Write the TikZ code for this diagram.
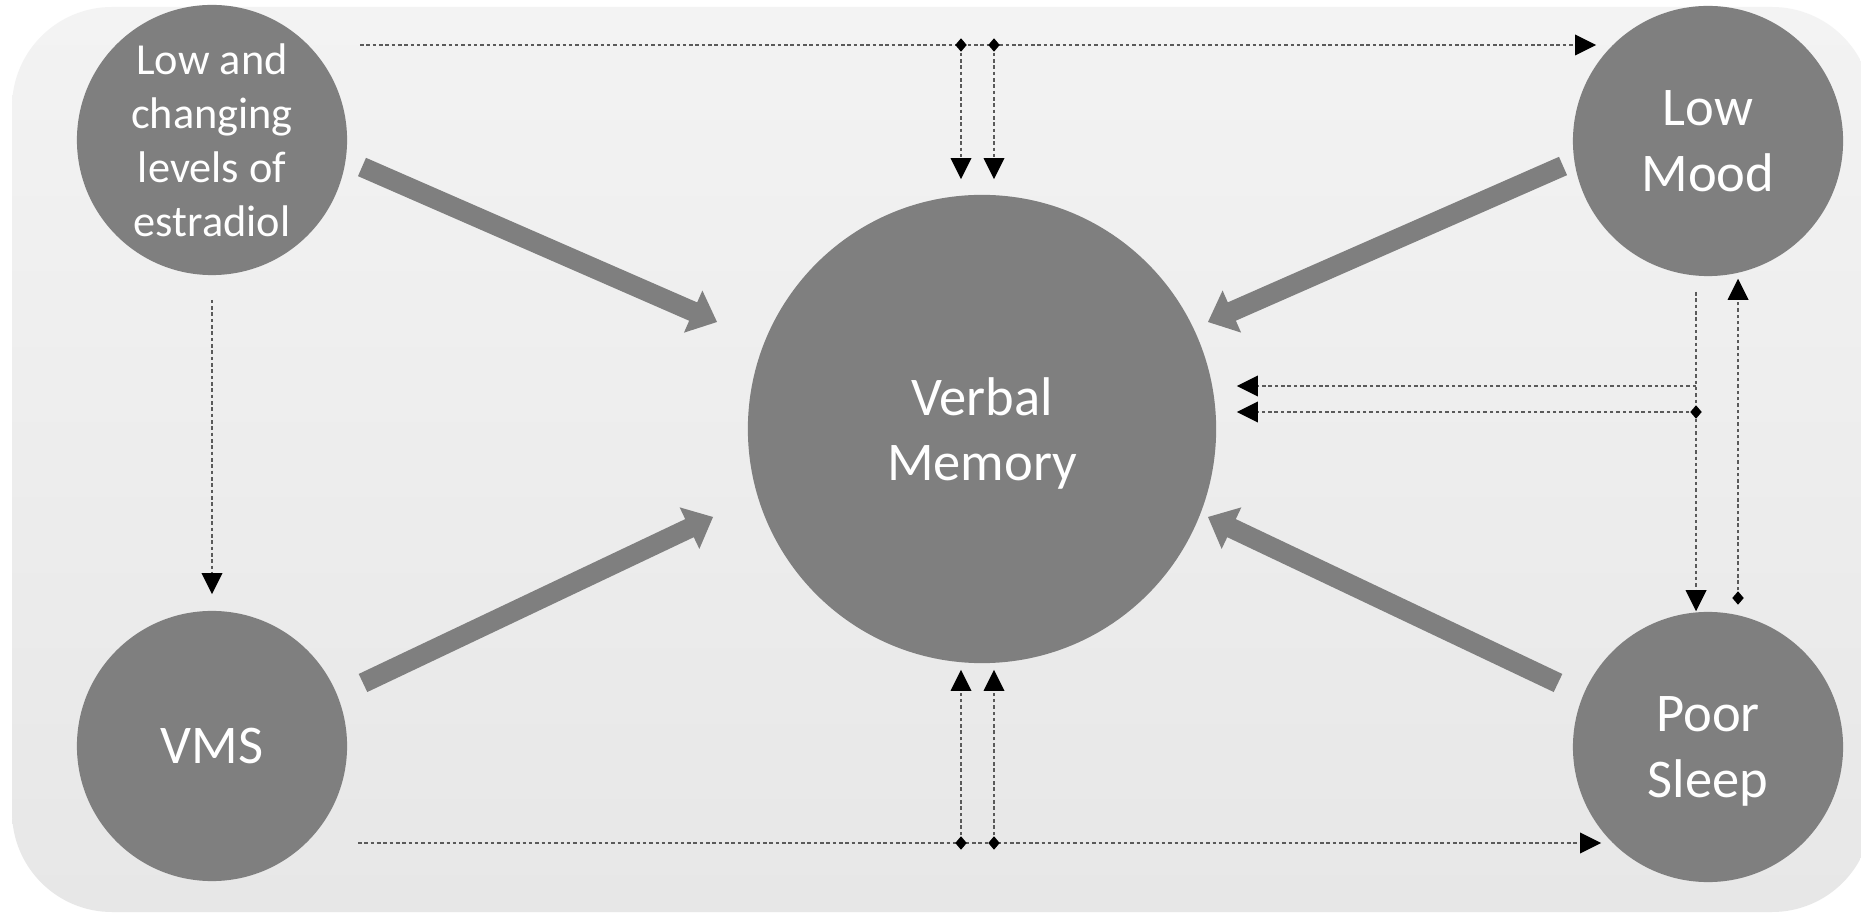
\documentclass[tikz,border=0pt]{standalone}
\usepackage{fontspec}
\setmainfont{Carlito}
\usetikzlibrary{arrows.meta,shapes.geometric,calc}
\definecolor{disccol}{HTML}{7F7F7F}
\definecolor{bgtop}{HTML}{F3F3F3}
\definecolor{bgbot}{HTML}{E7E7E7}
\definecolor{dotcol}{HTML}{5A5A5A}
% block arrow from coordinate #1 (tail) to coordinate #2 (tip)
\newcommand{\fatarrow}[2]{%
  \coordinate (#1-h) at ($(#2)!0.26cm!(#1)$);
  \fill[disccol] ($(#1)!0.1cm!90:(#2)$) -- ($(#1-h)!0.1cm!90:(#2)$)
    -- ($(#1-h)!0.23cm!90:(#2)$) -- (#2)
    -- ($(#1-h)!0.23cm!-90:(#2)$) -- ($(#1-h)!0.1cm!-90:(#2)$)
    -- ($(#1)!0.1cm!-90:(#2)$) -- cycle;}
\begin{document}
\begin{tikzpicture}[x=0.01cm, y=-0.01cm,
  disc/.style={circle, fill=disccol, draw=none, text=white, align=center,
    inner sep=0pt, minimum size=2.7cm, text depth=0pt,
    font=\fontsize{15.5pt}{18.5pt}\selectfont},
  bigdisc/.style={disc, minimum size=4.68cm},
  dotline/.style={draw=dotcol, line width=0.8pt, dash pattern=on 1pt off 0.8pt,
    -{Triangle[length=0.21cm, width=0.21cm, line width=0pt, black]}},
  junc/.style={diamond, fill=black, draw=none, inner sep=0pt,
    minimum width=0.12cm, minimum height=0.14cm}]

% page and shaded panel
\fill[white] (0,0) rectangle (1861,919);
\useasboundingbox (0,0) rectangle (1861,919);
\shade[top color=bgtop, bottom color=bgbot, rounded corners=1cm]
  (12,7) rectangle (1872,912);

% factors
\node[disc, font=\fontsize{12.6pt}{15.4pt}\selectfont] (est) at (212,140)
  {Low and\\changing\\levels of\\estradiol};
\node[disc] (mood) at (1708,141) {Low\\Mood};
\node[bigdisc] (vm) at (982,429) {Verbal\\Memory};
\node[disc] (vms) at (212,746) {VMS};
\node[disc] (sleep) at (1708,747) {Poor\\Sleep};

% direct effects on verbal memory
\coordinate (estS) at ($(est)+(150,27)$);
\coordinate (estT) at ($(vm)+(-265,-107)$);
\coordinate (vmsS) at ($(vms)+(151,-63)$);
\coordinate (vmsT) at ($(vm)+(-269,88)$);
\coordinate (moodS) at ($(mood)+(-145,25)$);
\coordinate (moodT) at ($(vm)+(226,-107)$);
\coordinate (sleepS) at ($(sleep)+(-150,-64)$);
\coordinate (sleepT) at ($(vm)+(226,88)$);
\fatarrow{estS}{estT}
\fatarrow{vmsS}{vmsT}
\fatarrow{moodS}{moodT}
\fatarrow{sleepS}{sleepT}

% indirect paths
\coordinate (tL) at (360,45);
\coordinate (tR) at (1596,45);
\coordinate (bL) at (358,843);
\coordinate (bR) at (1601,843);
\coordinate (rs) at (1696,292);
\coordinate (hs) at (1696,386);

\draw[dotline] (tL) -- (tR);
\draw[dotline] (bL) -- (bR);
\draw[dotline, shorten <=0.24cm, shorten >=0.16cm] (est.south) -- (vms.north);
\draw[dotline] (rs) -- (rs |- sleep.north);
\draw[dotline, shorten >=0.2cm] (hs) -- (hs -| vm.east);

\node[junc] (j1) at (961,45) {};
\node[junc] (j2) at (994,45) {};
\node[junc] (j3) at (961,843) {};
\node[junc] (j4) at (994,843) {};
\node[junc] (j5) at (1738,598) {};
\node[junc] (j6) at (1696,412) {};

\draw[dotline, shorten >=0.15cm] (j1) -- (j1 |- vm.north);
\draw[dotline, shorten >=0.15cm] (j2) -- (j2 |- vm.north);
\draw[dotline, shorten >=0.06cm] (j3) -- (j3 |- vm.south);
\draw[dotline, shorten >=0.06cm] (j4) -- (j4 |- vm.south);
\draw[dotline, shorten >=0.02cm] (j5) -- (j5 |- mood.south);
\draw[dotline, shorten >=0.2cm] (j6) -- (j6 -| vm.east);
\end{tikzpicture}
\end{document}
